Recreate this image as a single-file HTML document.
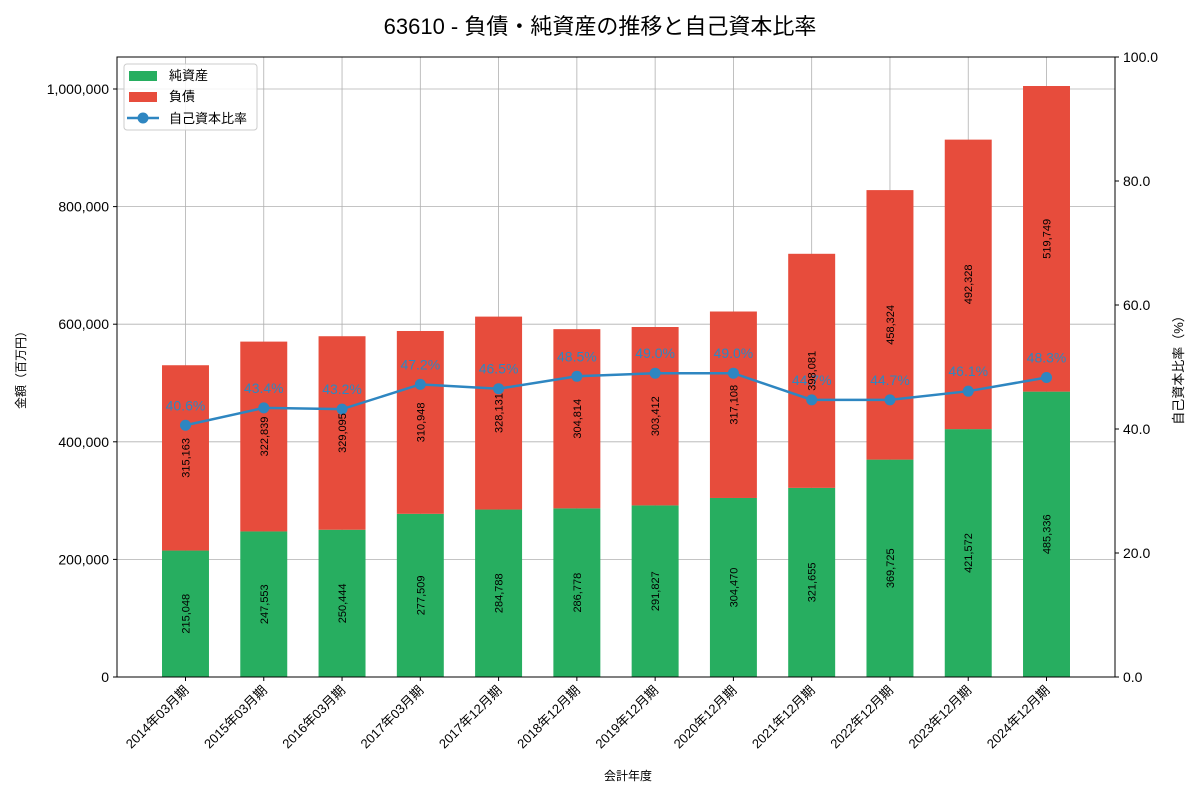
<!DOCTYPE html>
<html><head><meta charset="utf-8">
<style>
body{margin:0;background:#fff;}
svg{display:block;font-family:"Liberation Sans","Noto Sans CJK JP",sans-serif;}
</style></head>
<body>
<svg id="chart" width="1200" height="800">
<text x="600" y="34" text-anchor="middle" font-size="22" fill="#000">63610 - 負債・純資産の推移と自己資本比率</text>
<g id="grid"></g><g id="bars"></g><g id="line"></g><g id="labels"></g><g id="axes"></g>
<text x="628" y="780" text-anchor="middle" font-size="12">会計年度</text>
<text transform="translate(25,367) rotate(-90)" text-anchor="middle" font-size="12">金額（百万円）</text>
<text transform="translate(1183,367) rotate(-90)" text-anchor="middle" font-size="13">自己資本比率（%）</text>
<g>
<rect x="124" y="64" width="133" height="66" rx="3" fill="#fff" fill-opacity="0.85" stroke="#ccc"/>
<rect x="129" y="71" width="28" height="10" fill="#27ae60"/>
<text x="169" y="80" font-size="13">純資産</text>
<rect x="129" y="92" width="28" height="10" fill="#e74c3c"/>
<text x="169" y="101" font-size="13">負債</text>
<line x1="127" y1="118" x2="159" y2="118" stroke="#2e86c1" stroke-width="2.5"/>
<circle cx="143" cy="118" r="5.5" fill="#2e86c1"/>
<text x="169" y="123" font-size="13">自己資本比率</text>
</g>
</svg>
<script>
const categories=["2014年03月期","2015年03月期","2016年03月期","2017年03月期","2017年12月期","2018年12月期","2019年12月期","2020年12月期","2021年12月期","2022年12月期","2023年12月期","2024年12月期"];
const equity=[215048,247553,250444,277509,284788,286778,291827,304470,321655,369725,421572,485336];
const liabilities=[315163,322839,329095,310948,328131,304814,303412,317108,398081,458324,492328,519749];
const ratio=[40.6,43.4,43.2,47.2,46.5,48.5,49.0,49.0,44.7,44.7,46.1,48.3];
const yTicks=[0,200000,400000,600000,800000,1000000];
const y2Ticks=[0,20,40,60,80,100];
const L=117,R=1115,T=57,B=677;
const NS="http://www.w3.org/2000/svg";
const step=(R-L)/(categories.length+0.75);
const xs=i=>L+step*(i+0.875);
const ys=v=>B-v*(B-89)/1000000;
const y2=v=>B-v*(B-T)/100;
const bw=step*0.6;
function mk(tag,attrs,parent,txt){const e=document.createElementNS(NS,tag);for(const k in attrs)e.setAttribute(k,attrs[k]);if(txt!==undefined)e.textContent=txt;document.getElementById(parent).appendChild(e);return e;}
const fmt=v=>v.toLocaleString('en-US');
// grid
yTicks.forEach(t=>{const e=mk('line',{x1:L,x2:R,y1:ys(t),y2:ys(t),stroke:'#b0b0b0','stroke-width':0.8},'grid');

});
categories.forEach((c,i)=>{const e=mk('line',{x1:xs(i),x2:xs(i),y1:T,y2:B,stroke:'#b0b0b0','stroke-width':0.8},'grid');

});
// bars
categories.forEach((c,i)=>{
const x=xs(i)-bw/2;
const a=mk('rect',{x:x,y:ys(equity[i]),width:bw,height:B-ys(equity[i]),fill:'#27ae60'},'bars');


const tot=equity[i]+liabilities[i];
const b=mk('rect',{x:x,y:ys(tot),width:bw,height:ys(equity[i])-ys(tot),fill:'#e74c3c'},'bars');


});
// line
const pts=ratio.map((r,i)=>xs(i)+','+y2(r)).join(' ');
const pl=mk('polyline',{points:pts,fill:'none',stroke:'#2e86c1','stroke-width':2.5},'line');


ratio.forEach((r,i)=>{
const c=mk('circle',{cx:xs(i),cy:y2(r),r:5.5,fill:'#2e86c1'},'line');


const t=mk('text',{x:xs(i),y:y2(r)-15,'text-anchor':'middle','font-size':14,fill:'#2e86c1'},'labels',r.toFixed(1)+'%');


});
// bar value labels
categories.forEach((c,i)=>{
const m1=(B+ys(equity[i]))/2, m2=(ys(equity[i])+ys(equity[i]+liabilities[i]))/2;
const t1=mk('text',{transform:`translate(${xs(i)+4},${m1}) rotate(-90)`,'text-anchor':'middle','font-size':11,fill:'#000'},'labels',fmt(equity[i]));


const t2=mk('text',{transform:`translate(${xs(i)+4},${m2}) rotate(-90)`,'text-anchor':'middle','font-size':11,fill:'#000'},'labels',fmt(liabilities[i]));


});
// axes
const fr=mk('rect',{x:L,y:T,width:R-L,height:B-T,fill:'none',stroke:'#000','stroke-width':1},'axes');


yTicks.forEach(t=>{
mk('line',{x1:L-4,x2:L,y1:ys(t),y2:ys(t),stroke:'#000'},'axes');
const e=mk('text',{x:L-8,y:ys(t)+5,'text-anchor':'end','font-size':14},'axes',fmt(t));


});
y2Ticks.forEach(t=>{
mk('line',{x1:R,x2:R+4,y1:y2(t),y2:y2(t),stroke:'#000'},'axes');
const e=mk('text',{x:R+8,y:y2(t)+5,'text-anchor':'start','font-size':14},'axes',t.toFixed(1));


});
categories.forEach((c,i)=>{
mk('line',{x1:xs(i),x2:xs(i),y1:B,y2:B+4,stroke:'#000'},'axes');
const e=mk('text',{transform:`translate(${xs(i)+4},${B+14}) rotate(-45)`,'text-anchor':'end','font-size':13},'axes',c);


});
</script>
</body></html>
